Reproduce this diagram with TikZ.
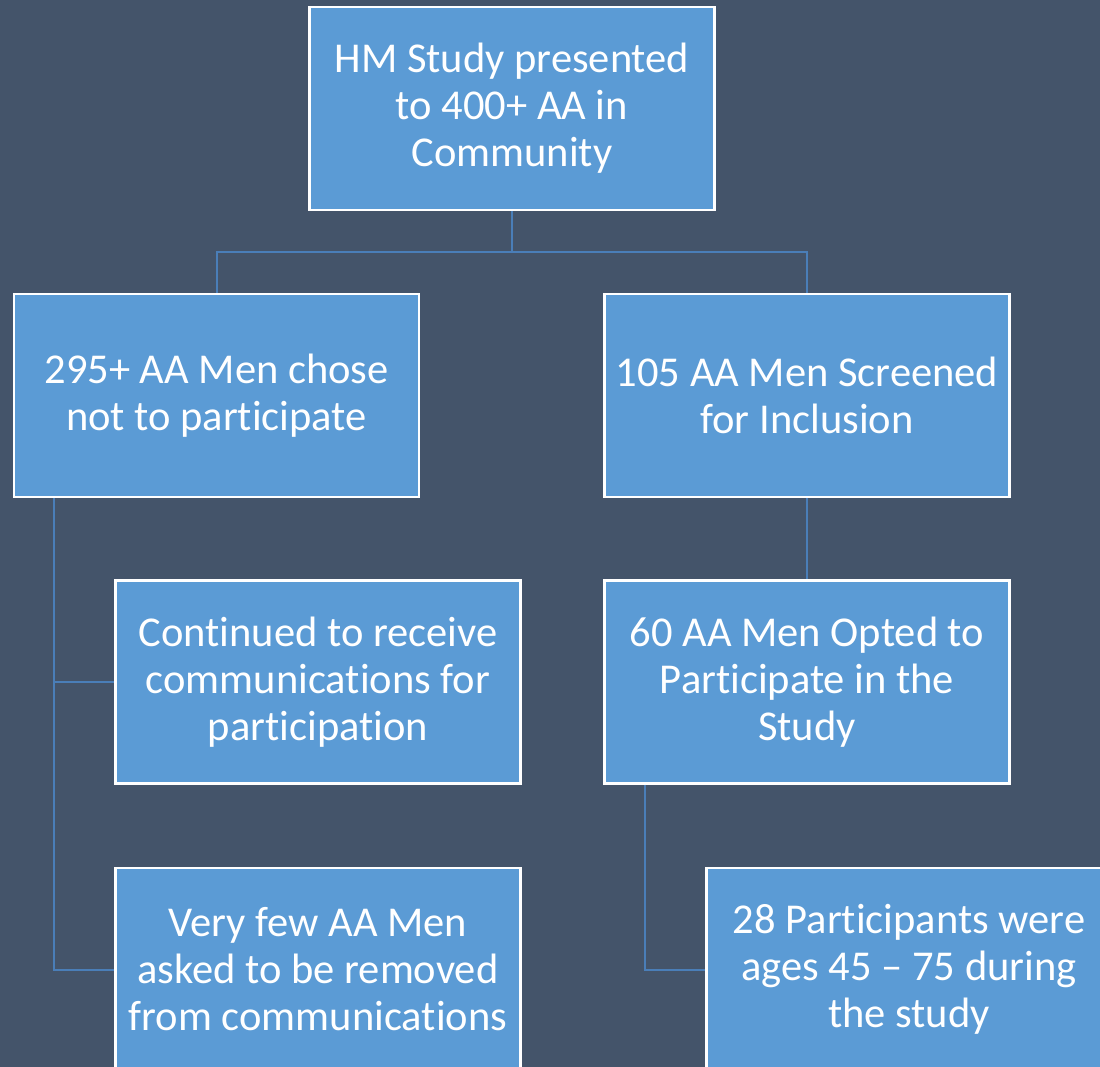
\documentclass[tikz,border=0pt]{standalone}
\usepackage{fontspec}
\setmainfont{Carlito}[RawFeature={-liga;-clig;-calt;-dlig}]
\newcommand{\tisep}{t\kern0pt i}
\definecolor{bg}{HTML}{44546A}
\definecolor{boxblue}{HTML}{5B9BD5}
\definecolor{linkblue}{HTML}{4A7EB8}
\tikzset{
  flowbox/.style={draw=white, line width=2.5pt, fill=boxblue, minimum width=405pt, minimum height=203pt,
    text=white, align=center, inner sep=0pt, font=\fontsize{42.5pt}{47pt}\selectfont},
  link/.style={draw=linkblue, line width=2pt}
}
\begin{document}
\begin{tikzpicture}[x=1pt,y=-1pt]
\useasboundingbox (0,0) rectangle (1100,1067);
\clip (0,0) rectangle (1100,1067);
\fill[bg] (0,0) rectangle (1100,1067);
\node[flowbox] (top) at (512,108.5) {HM Study presented\\to 400+ AA in\\Community};
\node[flowbox] (A) at (216.5,395.5) {295+ AA Men chose\\not to par\tisep cipate};
\node[flowbox] (B) at (807,395.5) {105 AA Men Screened\\for Inclusion};
\node[flowbox] (C) at (318,682) {Continued to receive\\communica\tisep ons for\\par\tisep cipa\tisep on};
\node[flowbox] (D) at (318,969.5) {Very few AA Men\\asked to be removed\\from communica\tisep ons};
\node[flowbox] (E) at (807,682) {60 AA Men Opted to\\Par\tisep cipate in the\\Study};
\node[flowbox] (F) at (909,969.5) {28 Par\tisep cipants were\\ages 45 -- 75 during\\the study};
\draw[link] (top.south) -- ++(0,41) -| (A.north);
\draw[link] (top.south) ++(0,41) -| (B.north);
\draw[link] (B.south) -- (E.north);
\draw[link] ([xshift=41pt]A.south west) |- (C.west);
\draw[link] ([xshift=41pt]A.south west) |- (D.west);
\draw[link] ([xshift=42pt]E.south west) |- (F.west);
\end{tikzpicture}
\end{document}
